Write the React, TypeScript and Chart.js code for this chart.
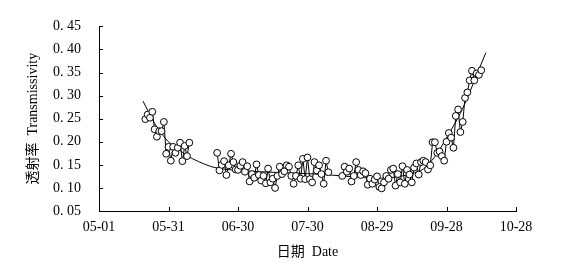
import React, { useEffect, useRef } from 'react';
import { Chart, registerables } from 'chart.js';

Chart.register(...registerables);

// X axis: day index from 05-01 (day 0) to 10-28 (day 180)
const xTickLabels = ['05-01', '05-31', '06-30', '07-30', '08-29', '09-28', '10-28'];
const xStep = 30;
const yMin = 0.05;
const yMax = 0.45;
const yStep = 0.05;

const xTitle = '日期  Date';
const yTitle = '透射率  Transmissivity';

// Observed transmissivity (null = gap in the record)
const obsDays = [
  20, 21, 22, 23, 24, 25, 26, 27, 28, 29, 30, 31, 32, 33, 34, 35, 36, 37, 38, 39,
  45,
  51, 52, 53, 54, 55, 56, 57, 58, 59, 60, 61, 62, 63, 64, 65, 66, 67, 68, 69, 70,
  71, 72, 73, 74, 75, 76, 77, 78, 79, 80, 81, 82, 83, 84, 85, 86, 87, 88, 89, 90,
  91, 92, 93, 94, 95, 96, 97, 98, 99,
  102,
  105, 106, 107, 108, 109, 110, 111, 112, 113, 114, 115, 116, 117, 118, 119, 120,
  121, 122, 123, 124, 125, 126, 127, 128, 129, 130, 131, 132, 133, 134, 135, 136,
  137, 138, 139, 140, 141, 142, 143, 144, 145, 146, 147, 148, 149, 150, 151, 152,
  153, 154, 155, 156, 157, 158, 159, 160, 161, 162, 163, 164, 165,
];
const obsValues: (number | null)[] = [
  0.249, 0.259, 0.252, 0.265, 0.227, 0.211, 0.223, 0.223, 0.243, 0.174, 0.189, 0.159, 0.189, 0.176, 0.187, 0.198, 0.158, 0.191, 0.169, 0.198,
  null,
  0.176, 0.138, 0.150, 0.158, 0.128, 0.149, 0.174, 0.156, 0.140, 0.139, 0.148, 0.156, 0.135, 0.147, 0.114, 0.130, 0.122, 0.151, 0.128, 0.116,
  0.126, 0.110, 0.142, 0.112, 0.120, 0.100, 0.126, 0.146, 0.130, 0.136, 0.149, 0.146, 0.126, 0.109, 0.126, 0.149, 0.120, 0.163, 0.119, 0.166,
  0.119, 0.112, 0.156, 0.138, 0.149, 0.130, 0.109, 0.159, 0.134,
  null,
  0.126, 0.146, 0.135, 0.142, 0.114, 0.126, 0.156, 0.139, 0.128, 0.136, 0.132, 0.107, 0.120, 0.109, 0.118, 0.125,
  0.102, 0.099, 0.112, 0.126, 0.120, 0.139, 0.142, 0.105, 0.130, 0.112, 0.147, 0.109, 0.139, 0.129, 0.112, 0.144,
  0.153, 0.129, 0.156, 0.159, 0.156, 0.140, 0.149, 0.199, 0.199, 0.176, 0.179, 0.169, 0.159, 0.200, 0.219, 0.209,
  0.187, 0.256, 0.270, 0.221, 0.243, 0.295, 0.307, 0.333, 0.354, 0.333, 0.348, 0.345, 0.355,
];

// Fitted curve
const fitDays = [19, 24, 27, 30, 34, 38, 43, 48, 52, 60, 70, 80, 90, 100, 110, 119, 125, 130, 135, 140, 145, 151, 156, 160, 164, 167];
const fitValues = [0.288, 0.240, 0.218, 0.200, 0.185, 0.170, 0.157, 0.147, 0.142, 0.138, 0.135, 0.133, 0.131, 0.128, 0.124, 0.121, 0.122, 0.125, 0.131, 0.141, 0.168, 0.217, 0.262, 0.307, 0.357, 0.393];

const serif = '"Liberation Serif", "Times New Roman", "Noto Sans CJK SC", serif';

const innerTicks = {
  id: 'innerTicks',
  afterDraw(chart: any) {
    const { ctx, chartArea, scales } = chart;
    ctx.save();
    ctx.strokeStyle = '#000';
    ctx.lineWidth = 1;
    ctx.beginPath();
    scales.y.ticks.forEach((t: any) => {
      const y = Math.round(scales.y.getPixelForValue(t.value)) + 0.5;
      ctx.moveTo(chartArea.left, y);
      ctx.lineTo(chartArea.left + 4, y);
    });
    scales.x.ticks.forEach((t: any) => {
      const x = Math.round(scales.x.getPixelForValue(t.value)) + 0.5;
      ctx.moveTo(x, chartArea.bottom);
      ctx.lineTo(x, chartArea.bottom - 4);
    });
    ctx.stroke();
    ctx.restore();
  },
};

export default function App() {
  const ref = useRef<HTMLCanvasElement | null>(null);

  useEffect(() => {
    if (!ref.current) return;
    const obsData = obsDays.map((d, i) => ({ x: d, y: obsValues[i] }));
    const fitData = fitDays.map((d, i) => ({ x: d, y: fitValues[i] }));
    const chart = new Chart(ref.current, {
      type: 'line',
      data: {
        datasets: [
          {
            data: obsData as any,
            borderColor: '#000',
            borderWidth: 1,
            pointRadius: 3.4,
            pointBackgroundColor: '#fff',
            pointBorderColor: '#000',
            pointBorderWidth: 1,
            tension: 0,
            spanGaps: false,
          },
          {
            data: fitData as any,
            borderColor: '#000',
            borderWidth: 1,
            pointRadius: 0,
            cubicInterpolationMode: 'monotone',
          },
        ],
      },
      options: {
        responsive: false,
        animation: false,
        layout: { padding: { left: 0, right: 49, top: 12, bottom: 0 } },
        plugins: { legend: { display: false }, tooltip: { enabled: false } },
        scales: {
          x: {
            type: 'linear',
            min: 0,
            max: 180,
            afterFit: (s: any) => { s.height = 57; },
            ticks: {
              stepSize: xStep,
              autoSkip: false,
              maxRotation: 0,
              padding: 8,
              color: '#000',
              font: { family: serif, size: 14 },
              callback: (v: any) => xTickLabels[Math.round(Number(v) / xStep)] ?? '',
            },
            grid: { display: true, drawOnChartArea: false, drawTicks: false },
            border: { display: true, color: '#000', width: 1 },
            title: {
              display: true,
              text: xTitle,
              color: '#000',
              font: { family: serif, size: 14 },
              padding: { top: 0, bottom: 7 },
            },
          },
          y: {
            min: yMin,
            max: yMax,
            afterFit: (s: any) => { s.width = 99; },
            ticks: {
              stepSize: yStep,
              padding: 18,
              color: '#000',
              font: { family: serif, size: 14 },
              callback: (v: any) => Number(v).toFixed(2).replace('.', '. '),
            },
            grid: { display: true, drawOnChartArea: false, drawTicks: false },
            border: { display: true, color: '#000', width: 1 },
            title: {
              display: true,
              text: yTitle,
              color: '#000',
              font: { family: serif, size: 14 },
              padding: { top: 25, bottom: 0 },
            },
          },
        },
      },
      plugins: [innerTicks],
    });
    return () => chart.destroy();
  }, []);

  return (
    <div style={{ position: 'absolute', left: 0, top: 0, width: 565, height: 268, background: '#fff' }}>
      <canvas ref={ref} width={565} height={268} />
    </div>
  );
}
